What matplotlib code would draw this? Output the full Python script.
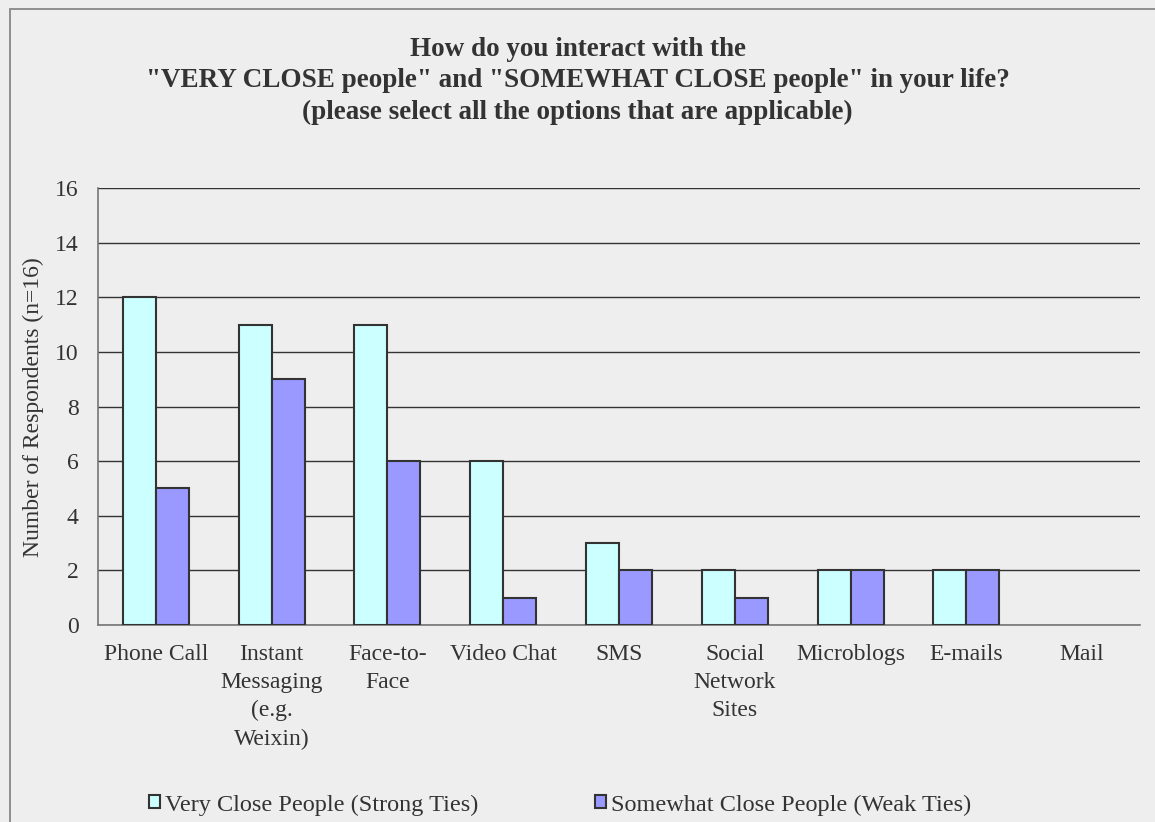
import numpy as np
import matplotlib.pyplot as plt
from matplotlib.patches import Rectangle

categories = ["Phone Call", "Instant\nMessaging\n(e.g.\nWeixin)", "Face-to-\nFace", "Video Chat",
              "SMS", "Social\nNetwork\nSites", "Microblogs", "E-mails", "Mail"]
strong_ties = [12, 11, 11, 6, 3, 2, 2, 2, 0]
weak_ties = [5, 9, 6, 1, 2, 1, 2, 2, 0]
yticks = [0, 2, 4, 6, 8, 10, 12, 14, 16]

title = ('How do you interact with the\n'
         '"VERY CLOSE people" and "SOMEWHAT CLOSE people" in your life?\n'
         '(please select all the options that are applicable)')

plt.rcParams['font.family'] = ['Liberation Serif', 'DejaVu Serif']
txt = '#333333'
bg = '#eeeeee'

fig = plt.figure(figsize=(11.55, 8.22), dpi=100, facecolor=bg)
# outer chart border (right and bottom edges run off the picture)
fig.patches.append(Rectangle((10 / 1155, -0.1), 1.2, 1 - 9 / 822 + 0.1, transform=fig.transFigure,
                             fill=False, edgecolor='#888888', linewidth=1.3))
ax = fig.add_axes([98 / 1155, 1 - 625 / 822, (1140 - 98) / 1155, (625 - 188) / 822])
ax.set_facecolor(bg)

x = np.arange(len(categories))
w = 0.285
b1 = ax.bar(x - w / 2, strong_ties, w, color='#ccffff', edgecolor='#333333', linewidth=1.5,
            label='Very Close People (Strong Ties)', zorder=3)
b2 = ax.bar(x + w / 2, weak_ties, w, color='#9999ff', edgecolor='#333333', linewidth=1.5,
            label='Somewhat Close People (Weak Ties)', zorder=3)
# empty bars are not drawn at all
for p in list(b1) + list(b2):
    if p.get_height() == 0:
        p.set_visible(False)

ax.set_xlim(-0.5, len(categories) - 0.5)
ax.set_ylim(0, 16)
ax.set_yticks(yticks)
ax.yaxis.grid(True, color='#333333', linewidth=1.0, zorder=0)
ax.set_xticks(x)
ax.set_xticklabels(categories, fontsize=17, color=txt, linespacing=1.43)
ax.tick_params(axis='y', labelsize=17, labelcolor=txt, length=0, pad=14)
ax.tick_params(axis='x', length=0, pad=14)
for s in ['top', 'right']:
    ax.spines[s].set_visible(False)
for s in ['left', 'bottom']:
    ax.spines[s].set_color('#777777')
    ax.spines[s].set_linewidth(1.2)

fig.text(33 / 1155, 1 - 407 / 822, 'Number of Respondents (n=16)', rotation=90,
         ha='center', va='center', fontsize=17, color=txt)

fig.text(0.5, 1 - 81 / 822, title, ha='center', va='center', fontsize=19.5, fontweight='bold',
         color=txt, linespacing=1.36)

fig.legend(loc='center', bbox_to_anchor=(560 / 1155, 1 - 805 / 822), ncol=2, frameon=False,
           fontsize=17.5, handlelength=0.45, handleheight=0.45, handletextpad=0.2,
           columnspacing=4.8, labelcolor=txt)

fig.savefig('out.png', dpi=100, facecolor=bg)
